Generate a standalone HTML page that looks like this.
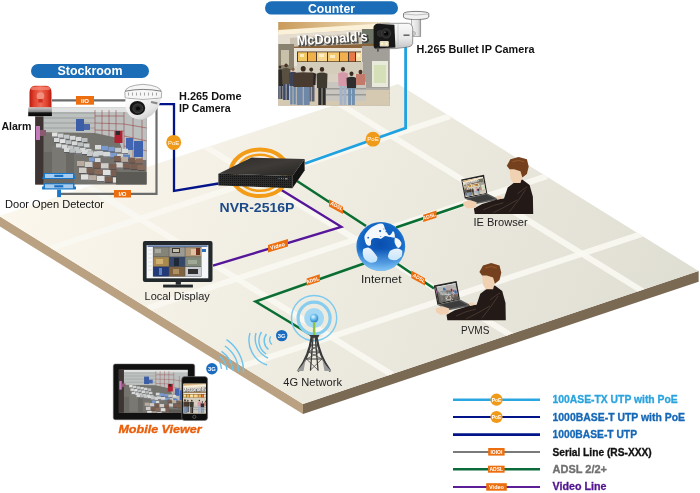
<!DOCTYPE html>
<html><head><meta charset="utf-8">
<style>
html,body{margin:0;padding:0;background:#fff;width:700px;height:493px;overflow:hidden}
svg{display:block;will-change:transform}
text{font-family:"Liberation Sans",sans-serif}
</style></head>
<body>
<svg width="700" height="493" viewBox="0 0 700 493">
<defs>
 <linearGradient id="plat" gradientUnits="userSpaceOnUse" x1="0" y1="0" x2="700" y2="290.5">
  <stop offset="0" stop-color="#fffaf0"/>
  <stop offset="1" stop-color="#dfded3"/>
 </linearGradient>
</defs>
<!-- platform -->
<g id="platform">
 <polygon points="-1,216 303,404 303,414 -1,226" fill="#b9a182"/>
 <polygon points="303,404 698.6,271 698.6,281.8 303,414" fill="#7a6a54"/>
 <polygon points="398,84 698.6,271 303,404 -1,216" fill="url(#plat)"/>
 <clipPath id="topclip"><polygon points="398,84 698.6,271 303,404 -1,216"/></clipPath>
 <g stroke="#f8f7f1" stroke-opacity="0.92" stroke-width="6" clip-path="url(#topclip)">
  <line x1="88" y1="186.6" x2="392" y2="374.6"/>
  <line x1="200" y1="143.2" x2="530" y2="347.1"/>
  <line x1="339" y1="103.5" x2="643" y2="291.5"/>
  <line x1="51" y1="248.1" x2="450" y2="116.1"/>
  <line x1="148" y1="308.1" x2="547" y2="176.1"/>
  <line x1="235" y1="368.5" x2="645" y2="232.9"/>
 </g>
</g>

<!-- network lines -->
<g fill="none" stroke-linejoin="miter">
 <path d="M52,100.4 H126" stroke="#6c6c6c" stroke-width="2.2"/>
 <path d="M156.5,106 V193.8 H58.5" stroke="#6c6c6c" stroke-width="2.2"/>
 <path d="M158.5,104.2 H174 V191 L218.5,183.5" stroke="#03148a" stroke-width="2.3"/>
 <path d="M405.6,47 V128 L305,163.5" stroke="#21a2e0" stroke-width="2.8"/>
 <path d="M297,181 L366,226" stroke="#0a6e32" stroke-width="2.6"/>
 <path d="M396,227.5 L464,204.5" stroke="#0a6e32" stroke-width="2.6"/>
 <path d="M397,263.5 L434,288.5" stroke="#0a6e32" stroke-width="2.6"/>
 <path d="M364,263.5 L255.5,301.5 L311,335" stroke="#0a6e32" stroke-width="2.6"/>
 <path d="M279,188.4 L341.3,226.8 L213,265.7" stroke="#55169a" stroke-width="2.4"/>
</g>
<!-- labels on lines -->
<g fill="#ec6e0e">
 <rect x="76" y="96" width="18" height="8.7"/>
 <rect x="114" y="190" width="17" height="7.5"/>
 <polygon points="329,199.3 343,206.8 343,214.1 329,206.6"/>
 <polygon points="268,245 288,239.1 288,246.5 268,252.4"/>
 <polygon points="306.7,278.4 319.8,274.3 319.8,281.6 306.7,285.7"/>
 <polygon points="423.2,214.7 436.5,210.4 436.5,217.7 423.2,222"/>
 <polygon points="411.3,270.6 425,278.2 425,285.5 411.3,277.9"/>
</g>
<g fill="#fff" font-size="5.5" font-weight="bold">
 <text x="85" y="102.6" text-anchor="middle" font-size="6">I/O</text>
 <text x="122.5" y="195.7" text-anchor="middle" font-size="6">I/O</text>
 <text transform="translate(336,207.5) rotate(28)" text-anchor="middle" font-size="5">ADSL</text>
 <text transform="translate(278,247.8) rotate(-16.5)" text-anchor="middle" font-size="5.5">Video</text>
 <text transform="translate(313.2,281.8) rotate(-17.5)" text-anchor="middle" font-size="5">ADSL</text>
 <text transform="translate(429.8,218) rotate(-18)" text-anchor="middle" font-size="5">ADSL</text>
 <text transform="translate(418.2,279.6) rotate(29)" text-anchor="middle" font-size="5">ADSL</text>
</g>
<g>
 <circle cx="173.7" cy="142.4" r="7.5" fill="#f09a1a"/>
 <circle cx="373" cy="139.2" r="7.4" fill="#f09a1a"/>
 <text x="173.7" y="144.6" text-anchor="middle" font-size="6" fill="#fff">PoE</text>
 <text x="373" y="141.4" text-anchor="middle" font-size="6" fill="#fff">PoE</text>
</g>

<!-- stockroom -->
<rect x="31" y="64" width="118" height="14" rx="7" fill="#1a6db6"/>
<text x="90" y="75.4" text-anchor="middle" font-size="12" font-weight="bold" fill="#fff" textLength="65" lengthAdjust="spacingAndGlyphs">Stockroom</text>
<clipPath id="wh"><rect x="35.2" y="107.8" width="111.4" height="76.7"/></clipPath>
<g id="whg" clip-path="url(#wh)">
 <rect x="35" y="107" width="112" height="78" fill="#75736d"/>
 <polygon points="35,107 147,107 147,160 126,160 118,138 95,133 35,132" fill="#bcc0be"/>
 <rect x="35" y="107" width="112" height="5" fill="#dfe2e0"/>
 <g stroke="#8c9092" stroke-width="0.7">
  <line x1="44" y1="113" x2="95" y2="113"/><line x1="44" y1="118" x2="95" y2="118"/><line x1="44" y1="123" x2="95" y2="123"/><line x1="44" y1="128" x2="95" y2="128"/>
 </g>
 <g stroke="#96383a" stroke-width="0.7" stroke-opacity="0.75">
  <line x1="95" y1="110" x2="95" y2="133"/><line x1="102" y1="110" x2="102" y2="135"/><line x1="109" y1="110" x2="109" y2="136"/><line x1="116" y1="110" x2="116" y2="138"/>
  <line x1="95" y1="116" x2="124" y2="116"/><line x1="95" y1="123" x2="124" y2="124"/><line x1="95" y1="130" x2="124" y2="131"/>
  <line x1="124" y1="112" x2="124" y2="150"/><line x1="133" y1="118" x2="133" y2="157"/><line x1="142" y1="120" x2="142" y2="160"/>
  <line x1="124" y1="124" x2="147" y2="128"/><line x1="124" y1="136" x2="147" y2="141"/><line x1="124" y1="146" x2="147" y2="151"/>
 </g>
 <rect x="76" y="119" width="8" height="12" fill="#3b5ea6"/>
 <rect x="84" y="124" width="6" height="6" fill="#4a66a8"/>
 <rect x="126" y="138" width="7" height="12" fill="#4466b0"/>
 <rect x="134" y="141" width="9" height="16" fill="#3f62ae"/>
 <rect x="114.5" y="131" width="8" height="12" fill="#b02232"/>
 <rect x="116" y="131" width="4" height="4" fill="#2a2a2a"/>
 <rect x="35" y="107" width="8.5" height="78" fill="#3e3434"/>
 <rect x="36" y="126" width="4" height="14" fill="#c27ab8"/>
 <rect x="40" y="130" width="6" height="6" fill="#8a5a70"/>
 <rect x="44" y="152" width="30" height="33" fill="#6a6863"/>
 <rect x="52" y="146" width="14" height="30" fill="#7a7872"/>
 <g>
  <rect x="52.0" y="132.5" width="5.5" height="5" fill="#e2e3e2"/>
  <rect x="52.0" y="136.6" width="5.5" height="0.9" fill="#4a4b50"/>
  <rect x="58.0" y="133.6" width="5.5" height="5" fill="#cfd2d2"/>
  <rect x="58.0" y="137.7" width="5.5" height="0.9" fill="#4a4b50"/>
  <rect x="64.0" y="134.7" width="5.5" height="5" fill="#c4c8c9"/>
  <rect x="64.0" y="138.8" width="5.5" height="0.9" fill="#4a4b50"/>
  <rect x="70.0" y="135.8" width="5.5" height="5" fill="#d8dad9"/>
  <rect x="70.0" y="139.9" width="5.5" height="0.9" fill="#4a4b50"/>
  <rect x="76.0" y="136.9" width="5.5" height="5" fill="#d8dad9"/>
  <rect x="76.0" y="141.0" width="5.5" height="0.9" fill="#4a4b50"/>
  <rect x="82.0" y="138.0" width="5.5" height="5" fill="#bcbfc0"/>
  <rect x="82.0" y="142.1" width="5.5" height="0.9" fill="#4a4b50"/>
  <rect x="54.0" y="138.0" width="5.5" height="5" fill="#d8dad9"/>
  <rect x="54.0" y="142.1" width="5.5" height="0.9" fill="#4a4b50"/>
  <rect x="60.0" y="139.1" width="5.5" height="5" fill="#e2e3e2"/>
  <rect x="60.0" y="143.2" width="5.5" height="0.9" fill="#4a4b50"/>
  <rect x="66.0" y="140.2" width="5.5" height="5" fill="#bcbfc0"/>
  <rect x="66.0" y="144.3" width="5.5" height="0.9" fill="#4a4b50"/>
  <rect x="72.0" y="141.3" width="5.5" height="5" fill="#d8dad9"/>
  <rect x="72.0" y="145.4" width="5.5" height="0.9" fill="#4a4b50"/>
  <rect x="78.0" y="142.4" width="5.5" height="5" fill="#bcbfc0"/>
  <rect x="78.0" y="146.5" width="5.5" height="0.9" fill="#4a4b50"/>
  <rect x="84.0" y="143.5" width="5.5" height="5" fill="#cfd2d2"/>
  <rect x="84.0" y="147.6" width="5.5" height="0.9" fill="#4a4b50"/>
  <rect x="56.0" y="143.5" width="5.5" height="5" fill="#d8dad9"/>
  <rect x="56.0" y="147.6" width="5.5" height="0.9" fill="#4a4b50"/>
  <rect x="62.0" y="144.6" width="5.5" height="5" fill="#d8dad9"/>
  <rect x="62.0" y="148.7" width="5.5" height="0.9" fill="#4a4b50"/>
  <rect x="68.0" y="145.7" width="5.5" height="5" fill="#c4c8c9"/>
  <rect x="68.0" y="149.8" width="5.5" height="0.9" fill="#4a4b50"/>
  <rect x="74.0" y="146.8" width="5.5" height="5" fill="#c4c8c9"/>
  <rect x="74.0" y="150.9" width="5.5" height="0.9" fill="#4a4b50"/>
  <rect x="80.0" y="147.9" width="5.5" height="5" fill="#d8dad9"/>
  <rect x="80.0" y="152.0" width="5.5" height="0.9" fill="#4a4b50"/>
  <rect x="86.0" y="149.0" width="5.5" height="5" fill="#cfd2d2"/>
  <rect x="86.0" y="153.1" width="5.5" height="0.9" fill="#4a4b50"/>
  <rect x="64.0" y="148.0" width="5.5" height="5" fill="#d8dad9"/>
  <rect x="64.0" y="152.1" width="5.5" height="0.9" fill="#4a4b50"/>
  <rect x="70.0" y="148.7" width="5.5" height="5" fill="#bcbfc0"/>
  <rect x="70.0" y="152.8" width="5.5" height="0.9" fill="#4a4b50"/>
  <rect x="76.0" y="149.3" width="5.5" height="5" fill="#c4c8c9"/>
  <rect x="76.0" y="153.4" width="5.5" height="0.9" fill="#4a4b50"/>
  <rect x="82.0" y="150.0" width="5.5" height="5" fill="#d8dad9"/>
  <rect x="82.0" y="154.1" width="5.5" height="0.9" fill="#4a4b50"/>
  <rect x="88.0" y="150.6" width="5.5" height="5" fill="#bcbfc0"/>
  <rect x="88.0" y="154.7" width="5.5" height="0.9" fill="#4a4b50"/>
  <rect x="94.0" y="151.3" width="5.5" height="5" fill="#d8dad9"/>
  <rect x="94.0" y="155.4" width="5.5" height="0.9" fill="#4a4b50"/>
  <rect x="100.0" y="152.0" width="5.5" height="5" fill="#cfd2d2"/>
  <rect x="100.0" y="156.1" width="5.5" height="0.9" fill="#4a4b50"/>
  <rect x="106.0" y="152.6" width="5.5" height="5" fill="#bcbfc0"/>
  <rect x="106.0" y="156.7" width="5.5" height="0.9" fill="#4a4b50"/>
  <rect x="95.0" y="145.0" width="6.2" height="5.5" fill="#d8dad9"/>
  <rect x="95.0" y="149.6" width="6.2" height="0.9" fill="#4a4b50"/>
  <rect x="101.7" y="145.9" width="6.2" height="5.5" fill="#7a9ad0"/>
  <rect x="101.7" y="150.5" width="6.2" height="0.9" fill="#4a4b50"/>
  <rect x="108.4" y="146.9" width="6.2" height="5.5" fill="#7a9ad0"/>
  <rect x="108.4" y="151.5" width="6.2" height="0.9" fill="#4a4b50"/>
  <rect x="115.1" y="147.8" width="6.2" height="5.5" fill="#c4c8c9"/>
  <rect x="115.1" y="152.4" width="6.2" height="0.9" fill="#4a4b50"/>
  <rect x="121.8" y="148.7" width="6.2" height="5.5" fill="#d8dad9"/>
  <rect x="121.8" y="153.3" width="6.2" height="0.9" fill="#4a4b50"/>
  <rect x="97.0" y="151.0" width="6.2" height="5.5" fill="#cfd2d2"/>
  <rect x="97.0" y="155.6" width="6.2" height="0.9" fill="#4a4b50"/>
  <rect x="103.7" y="151.9" width="6.2" height="5.5" fill="#d8dad9"/>
  <rect x="103.7" y="156.5" width="6.2" height="0.9" fill="#4a4b50"/>
  <rect x="110.4" y="152.9" width="6.2" height="5.5" fill="#7a9ad0"/>
  <rect x="110.4" y="157.5" width="6.2" height="0.9" fill="#4a4b50"/>
  <rect x="117.1" y="153.8" width="6.2" height="5.5" fill="#cfd2d2"/>
  <rect x="117.1" y="158.4" width="6.2" height="0.9" fill="#4a4b50"/>
  <rect x="123.8" y="154.7" width="6.2" height="5.5" fill="#5a84c4"/>
  <rect x="123.8" y="159.3" width="6.2" height="0.9" fill="#4a4b50"/>
  <rect x="87.0" y="152.0" width="5.5" height="5" fill="#c4c8c9"/>
  <rect x="87.0" y="156.1" width="5.5" height="0.9" fill="#4a4b50"/>
  <rect x="93.0" y="152.6" width="5.5" height="5" fill="#cfd2d2"/>
  <rect x="93.0" y="156.7" width="5.5" height="0.9" fill="#4a4b50"/>
  <rect x="89.0" y="157.5" width="5.5" height="5" fill="#7a9ad0"/>
  <rect x="89.0" y="161.6" width="5.5" height="0.9" fill="#4a4b50"/>
  <rect x="95.0" y="158.1" width="5.5" height="5" fill="#d8dad9"/>
  <rect x="95.0" y="162.2" width="5.5" height="0.9" fill="#4a4b50"/>
  <rect x="114.0" y="156.0" width="6.8" height="6" fill="#7a5e50"/>
  <rect x="114.0" y="161.1" width="6.8" height="0.9" fill="#4a4b50"/>
  <rect x="121.3" y="156.8" width="6.8" height="6" fill="#b8aca0"/>
  <rect x="121.3" y="161.9" width="6.8" height="0.9" fill="#4a4b50"/>
  <rect x="128.6" y="157.6" width="6.8" height="6" fill="#7a5e50"/>
  <rect x="128.6" y="162.7" width="6.8" height="0.9" fill="#4a4b50"/>
  <rect x="135.9" y="158.4" width="6.8" height="6" fill="#8a6c5c"/>
  <rect x="135.9" y="163.5" width="6.8" height="0.9" fill="#4a4b50"/>
  <rect x="116.0" y="162.5" width="6.8" height="6" fill="#d0ccc8"/>
  <rect x="116.0" y="167.6" width="6.8" height="0.9" fill="#4a4b50"/>
  <rect x="123.3" y="163.3" width="6.8" height="6" fill="#7a5e50"/>
  <rect x="123.3" y="168.4" width="6.8" height="0.9" fill="#4a4b50"/>
  <rect x="130.6" y="164.1" width="6.8" height="6" fill="#7a5e50"/>
  <rect x="130.6" y="169.2" width="6.8" height="0.9" fill="#4a4b50"/>
  <rect x="137.9" y="164.9" width="6.8" height="6" fill="#8a6c5c"/>
  <rect x="137.9" y="170.0" width="6.8" height="0.9" fill="#4a4b50"/>
  <rect x="77.0" y="161.0" width="7.5" height="6.2" fill="#b8aca0"/>
  <rect x="77.0" y="166.3" width="7.5" height="0.9" fill="#4a4b50"/>
  <rect x="85.0" y="161.8" width="7.5" height="6.2" fill="#d0ccc8"/>
  <rect x="85.0" y="167.0" width="7.5" height="0.9" fill="#4a4b50"/>
  <rect x="93.0" y="162.5" width="7.5" height="6.2" fill="#7a5e50"/>
  <rect x="93.0" y="167.8" width="7.5" height="0.9" fill="#4a4b50"/>
  <rect x="101.0" y="163.2" width="7.5" height="6.2" fill="#d0ccc8"/>
  <rect x="101.0" y="168.5" width="7.5" height="0.9" fill="#4a4b50"/>
  <rect x="109.0" y="164.0" width="7.5" height="6.2" fill="#7a5e50"/>
  <rect x="109.0" y="169.3" width="7.5" height="0.9" fill="#4a4b50"/>
  <rect x="79.0" y="167.7" width="7.5" height="6.2" fill="#d0ccc8"/>
  <rect x="79.0" y="173.0" width="7.5" height="0.9" fill="#4a4b50"/>
  <rect x="87.0" y="168.4" width="7.5" height="6.2" fill="#7a5e50"/>
  <rect x="87.0" y="173.7" width="7.5" height="0.9" fill="#4a4b50"/>
  <rect x="95.0" y="169.2" width="7.5" height="6.2" fill="#8a6c5c"/>
  <rect x="95.0" y="174.5" width="7.5" height="0.9" fill="#4a4b50"/>
  <rect x="103.0" y="169.9" width="7.5" height="6.2" fill="#e0e0de"/>
  <rect x="103.0" y="175.2" width="7.5" height="0.9" fill="#4a4b50"/>
  <rect x="111.0" y="170.7" width="7.5" height="6.2" fill="#7a5e50"/>
  <rect x="111.0" y="176.0" width="7.5" height="0.9" fill="#4a4b50"/>
  <rect x="81.0" y="174.4" width="7.5" height="6.2" fill="#e0e0de"/>
  <rect x="81.0" y="179.7" width="7.5" height="0.9" fill="#4a4b50"/>
  <rect x="89.0" y="175.2" width="7.5" height="6.2" fill="#b8aca0"/>
  <rect x="89.0" y="180.4" width="7.5" height="0.9" fill="#4a4b50"/>
  <rect x="97.0" y="175.9" width="7.5" height="6.2" fill="#e0e0de"/>
  <rect x="97.0" y="181.2" width="7.5" height="0.9" fill="#4a4b50"/>
  <rect x="105.0" y="176.7" width="7.5" height="6.2" fill="#7a5e50"/>
  <rect x="105.0" y="181.9" width="7.5" height="0.9" fill="#4a4b50"/>
  <rect x="113.0" y="177.4" width="7.5" height="6.2" fill="#e0e0de"/>
  <rect x="113.0" y="182.7" width="7.5" height="0.9" fill="#4a4b50"/>
 </g>
 <rect x="116" y="172" width="31" height="13" fill="#5c5a55"/>
</g>
<!-- alarm -->
<defs>
 <linearGradient id="redg" x1="0" y1="0" x2="1" y2="0"><stop offset="0" stop-color="#b81a0e"/><stop offset="0.2" stop-color="#e0402c"/><stop offset="0.5" stop-color="#ee6a56"/><stop offset="0.8" stop-color="#e0402c"/><stop offset="1" stop-color="#b81a0e"/></linearGradient>
 <linearGradient id="baseg" x1="0" y1="0" x2="0" y2="1"><stop offset="0" stop-color="#c8c8c8"/><stop offset="0.45" stop-color="#8a8a8a"/><stop offset="0.6" stop-color="#151515"/><stop offset="0.9" stop-color="#0a0a0a"/><stop offset="1" stop-color="#9a9a9a"/></linearGradient>
</defs>
<path d="M29.5,107.5 V93 Q29.5,86 35,85.8 H46 Q51.5,86 51.5,93 V107.5 Z" fill="url(#redg)"/>
<rect x="31" y="87" width="19" height="3" rx="1.5" fill="#f58a78" opacity="0.7"/>
<circle cx="40.5" cy="96" r="3.8" fill="#f0907e"/>
<rect x="38.3" y="99" width="4.4" height="3.5" fill="#d0301e"/>
<path d="M28.2,107.4 H51.9 V116.5 H28.2 Z" fill="url(#baseg)"/>
<!-- dome camera -->
<defs>
 <linearGradient id="domeg" x1="0" y1="0" x2="1" y2="1">
  <stop offset="0" stop-color="#ffffff"/><stop offset="0.6" stop-color="#e6e6e6"/><stop offset="1" stop-color="#b8b8b8"/>
 </linearGradient>
</defs>
<path d="M124.8,92.5 Q125,85.5 143,84.3 Q161,85.5 161.6,92.5 L161.3,98 Q143,101 125.2,98 Z" fill="#f6f6f6" stroke="#8c8c8c" stroke-width="0.7"/>
<path d="M125.2,91.2 Q143,87.6 161.3,91.2" fill="none" stroke="#6e6e6e" stroke-width="0.9"/>
<g stroke="#9c9c9c" stroke-width="0.9" stroke-linecap="round"><line x1="128.5" y1="93" x2="128.5" y2="95.2"/><line x1="132.5" y1="93" x2="132.5" y2="95.2"/><line x1="136.5" y1="93" x2="136.5" y2="95.2"/><line x1="140.5" y1="93" x2="140.5" y2="95.2"/><line x1="144.5" y1="93" x2="144.5" y2="95.2"/><line x1="148.5" y1="93" x2="148.5" y2="95.2"/><line x1="152.5" y1="93" x2="152.5" y2="95.2"/><line x1="156.5" y1="93" x2="156.5" y2="95.2"/></g>
<path d="M125.5,98.5 Q143,101.5 160.8,98.5 Q160,108 152,115 Q146,119.5 139,119.5 Q131,119 127,112 Q124.5,106 125.5,98.5 Z" fill="url(#domeg)"/>
<ellipse cx="137.4" cy="108" rx="7.8" ry="6.9" fill="#151515"/>
<ellipse cx="137.8" cy="108.4" rx="5" ry="4.5" fill="#2c2c2c" stroke="#555" stroke-width="0.6"/>
<ellipse cx="138" cy="108.6" rx="2.2" ry="2" fill="#0c0c0c"/>
<rect x="151" y="101.5" width="6.5" height="2.2" fill="#8a8a8a" transform="rotate(12 154 102.5)"/>
<!-- door detector -->
<g>
 <polygon points="44,173 74,173 75.7,179 42.1,179" fill="#1a78c8"/>
 <rect x="45" y="174" width="28" height="4" fill="#a6cdef"/>
 <rect x="54.3" y="174.8" width="9" height="2.2" fill="#1a70c0"/>
 <polygon points="43.5,183.2 74.5,183.2 74.5,186.5 76,186.5 76,189.6 42.1,189.6 42.1,186.5 43.5,186.5" fill="#1a78c8"/>
 <rect x="45" y="184.3" width="28" height="4" fill="#a6cdef"/>
 <rect x="54.3" y="185.2" width="9" height="2.2" fill="#1a70c0"/>
 <rect x="57.1" y="189.6" width="3.9" height="7.5" fill="#1a78c8"/>
</g>
<text x="1.4" y="130" font-size="11" font-weight="bold" fill="#111" textLength="30" lengthAdjust="spacingAndGlyphs">Alarm</text>
<text x="5" y="208" font-size="11" fill="#111" textLength="99" lengthAdjust="spacingAndGlyphs">Door Open Detector</text>
<text x="179" y="100" font-size="10.5" font-weight="bold" fill="#111" textLength="62.5" lengthAdjust="spacingAndGlyphs">H.265 Dome</text>
<text x="179" y="112" font-size="10.5" font-weight="bold" fill="#111" textLength="51.6" lengthAdjust="spacingAndGlyphs">IP Camera</text>

<!-- counter -->
<rect x="265" y="1.3" width="133" height="13.3" rx="6.6" fill="#1a6db6"/>
<text x="331.5" y="12.5" text-anchor="middle" font-size="12" font-weight="bold" fill="#fff" textLength="47" lengthAdjust="spacingAndGlyphs">Counter</text>
<clipPath id="mc"><rect x="278.3" y="22" width="111.4" height="83.7"/></clipPath>
<defs>
 <linearGradient id="ceil" x1="0" y1="0" x2="1" y2="0">
  <stop offset="0" stop-color="#c99a5a"/><stop offset="0.6" stop-color="#e2c79a"/><stop offset="1" stop-color="#efe2cc"/>
 </linearGradient>
</defs>
<g id="mcg" clip-path="url(#mc)">
 <rect x="278" y="22" width="112" height="84" fill="#d9d2c6"/>
 <rect x="278" y="22" width="112" height="10" fill="url(#ceil)"/>
 <polygon points="278,30 390,23 390,28 278,35" fill="#fbf1d8"/>
 <polygon points="278,35 390,28 390,46 278,47" fill="#e4ddd0"/>
 <polygon points="290,38 362,33 362,46 290,48" fill="#cbc2b2"/>
 <rect x="362" y="29" width="28" height="17" fill="#6e7466"/>
 <polygon points="286,47 390,43 390,48 286,50" fill="#8a643a"/>
 <rect x="278" y="48" width="112" height="18" fill="#ebe4d6"/>
 <rect x="278" y="44" width="16" height="26" fill="#8a8270"/>
 <rect x="281" y="50" width="8" height="15" fill="#c8c0a8"/>
 <rect x="297" y="51.5" width="64" height="10.5" fill="#4a3a2a"/>
 <rect x="298" y="52.3" width="9" height="9" fill="#f4c860"/><rect x="308" y="52.3" width="8" height="9" fill="#f0b04a"/><rect x="317" y="52.3" width="10" height="9" fill="#f8d890"/><rect x="328" y="52.3" width="11" height="9" fill="#f6c870"/><rect x="340" y="52.3" width="8" height="9" fill="#f0b050"/><rect x="349" y="52.3" width="6" height="9" fill="#e87848"/><rect x="356" y="52.3" width="5" height="9" fill="#f8e0a8"/>
 <g fill="#fff4d8" opacity="0.8"><rect x="300" y="54" width="4" height="3"/><rect x="319" y="54" width="5" height="3"/><rect x="330" y="55" width="5" height="3"/><rect x="357" y="54" width="3" height="3"/></g>
 <rect x="362" y="46" width="28" height="44" fill="#a19f98"/>
 <rect x="372" y="61" width="16" height="26" fill="#e8eadc"/>
 <rect x="374" y="65" width="12" height="18" fill="#d5e0b8"/>
 <rect x="297" y="62" width="66" height="22" fill="#d9d0c2"/>
 <rect x="300" y="64" width="20" height="6" fill="#c0b8a8"/>
 <rect x="278" y="88" width="112" height="18" fill="#cac5bc"/>
 <rect x="332" y="88" width="58" height="18" fill="#b2afa8"/>
 <rect x="336" y="92" width="54" height="2" fill="#8c8a86"/><rect x="336" y="97" width="54" height="2" fill="#8c8a86"/>

 <g>
  <rect x="278" y="90" width="112" height="16" fill="#d6c9b2"/>
  <rect x="326" y="82" width="40" height="19" fill="#c9c6c0"/><rect x="326" y="88" width="40" height="1.5" fill="#9a9894"/><rect x="326" y="94" width="40" height="1.5" fill="#9a9894"/>
  <rect x="297" y="62" width="66" height="12" fill="#d4cdbc"/>
  <path d="M277.0,86.0 L276.5,70.6 Q280.0,68.1 283.5,70.6 L283.0,86.0 Z" fill="#2e2a28"/>
  <rect x="277.5" y="86.0" width="2.1" height="13.0" fill="#34405a"/>
  <rect x="280.4" y="86.0" width="2.1" height="13.0" fill="#34405a"/>
  <ellipse cx="280.0" cy="67.0" rx="1.4" ry="1.5" fill="#3a2a20"/>
  <path d="M282.3,84.0 L281.8,69.3 Q286.1,66.8 290.5,69.3 L290.0,84.0 Z" fill="#5a5040"/>
  <rect x="283.1" y="84.0" width="2.6" height="16.0" fill="#3a4a68"/>
  <rect x="286.5" y="84.0" width="2.6" height="16.0" fill="#3a4a68"/>
  <ellipse cx="286.1" cy="65.4" rx="1.7" ry="1.9" fill="#4a3020"/>
  <path d="M289.5,86.0 L289.0,73.0 Q293.0,70.5 297.0,73.0 L296.5,86.0 Z" fill="#3c4258"/>
  <rect x="290.2" y="86.0" width="2.4" height="18.5" fill="#6a86a8"/>
  <rect x="293.4" y="86.0" width="2.4" height="18.5" fill="#6a86a8"/>
  <ellipse cx="293.0" cy="69.3" rx="1.6" ry="1.8" fill="#8a6040"/>
  <path d="M307.0,85.0 L306.5,73.7 Q311.2,71.2 316.0,73.7 L315.5,85.0 Z" fill="#2a2624"/>
  <rect x="308.0" y="85.0" width="2.9" height="16.5" fill="#5a6070"/>
  <rect x="311.6" y="85.0" width="2.9" height="16.5" fill="#5a6070"/>
  <ellipse cx="311.2" cy="69.6" rx="1.9" ry="2.1" fill="#3a2a20"/>
  <path d="M293.5,87.0 L293.0,73.6 Q303.2,71.1 313.5,73.6 L313.0,87.0 Z" fill="#4a3b30"/>
  <rect x="296.7" y="87.0" width="6.1" height="18.0" fill="#7088a8"/>
  <rect x="303.6" y="87.0" width="6.1" height="18.0" fill="#7088a8"/>
  <ellipse cx="303.2" cy="68.8" rx="2.5" ry="2.8" fill="#3a2a20"/>
  <path d="M317.0,88.0 L316.5,73.8 Q322.0,71.3 327.5,73.8 L327.0,88.0 Z" fill="#3e3a30"/>
  <rect x="318.3" y="88.0" width="3.3" height="17.0" fill="#2a2a2a"/>
  <rect x="322.4" y="88.0" width="3.3" height="17.0" fill="#2a2a2a"/>
  <ellipse cx="322.0" cy="69.4" rx="2.2" ry="2.4" fill="#3a2a20"/>
  <path d="M338.5,86.0 L338.0,73.4 Q343.0,70.9 348.0,73.4 L347.5,86.0 Z" fill="#d699aa"/>
  <rect x="339.6" y="86.0" width="3.0" height="19.0" fill="#a2b2c8"/>
  <rect x="343.4" y="86.0" width="3.0" height="19.0" fill="#a2b2c8"/>
  <ellipse cx="343.0" cy="69.2" rx="2.0" ry="2.2" fill="#3a2a20"/>
  <path d="M347.0,88.0 L346.5,77.9 Q351.5,75.4 356.5,77.9 L356.0,88.0 Z" fill="#2e2e2e"/>
  <rect x="348.1" y="88.0" width="3.0" height="17.0" fill="#7090b0"/>
  <rect x="351.9" y="88.0" width="3.0" height="17.0" fill="#7090b0"/>
  <ellipse cx="351.5" cy="73.7" rx="2.0" ry="2.2" fill="#3a2a20"/>
  <rect x="356" y="74" width="9" height="11" fill="#c47a6a"/><ellipse cx="360.5" cy="72" rx="2" ry="2.3" fill="#4a3020"/>
 </g>
 <text transform="translate(297.6,45.8) rotate(-3.5)" font-size="14" font-weight="bold" fill="#2a2a2a" opacity="0.75" stroke="#2a2a2a" stroke-width="1.2" textLength="71" lengthAdjust="spacingAndGlyphs" dx="0.6" dy="0.6">McDonald's</text>
 <text transform="translate(297,45.3) rotate(-3.5)" font-size="14" font-weight="bold" fill="#fff" textLength="71" lengthAdjust="spacingAndGlyphs">McDonald's</text>
</g>
<!-- bullet camera -->
<defs>
 <linearGradient id="bcb" x1="0" y1="0" x2="0" y2="1"><stop offset="0" stop-color="#fafafa"/><stop offset="0.6" stop-color="#e8e8e8"/><stop offset="1" stop-color="#c4c4c4"/></linearGradient>
 <linearGradient id="arm" x1="0" y1="0" x2="1" y2="0"><stop offset="0" stop-color="#f4f4f4"/><stop offset="0.7" stop-color="#dedede"/><stop offset="1" stop-color="#a8a8a8"/></linearGradient>
</defs>
<path d="M403.5,13.5 Q404,11.6 416,11.4 Q428,11.6 428.8,13.5 V17 Q428,19.4 416,19.6 Q404,19.4 403.5,17 Z" fill="#f2f2f2" stroke="#4a4a4a" stroke-width="0.7"/>
<path d="M404,14 Q416,16 428.5,14" fill="none" stroke="#8a8a8a" stroke-width="0.5"/>
<rect x="411.3" y="19.3" width="9.5" height="17.2" fill="url(#arm)" stroke="#6a6a6a" stroke-width="0.5"/>
<circle cx="413.5" cy="33.5" r="2" fill="#d0d0d0" stroke="#777" stroke-width="0.4"/>
<path d="M374,26.3 Q376,23.6 381.2,23.3 H408.6 Q412.7,24.5 412.7,29 V43.6 Q412,46.5 408,47 L395.4,48.6 H375 Z" fill="url(#bcb)" stroke="#5a5a5a" stroke-width="0.6"/>
<path d="M398,24.2 V48" stroke="#b0b0b0" stroke-width="0.5"/>
<rect x="403.5" y="34.4" width="6" height="1.6" fill="#6a6a6a"/>
<path d="M373.6,27 Q374.5,24 377.5,23.8 L394.4,24.8 L395.4,47.6 L375.1,48.6 Q373.6,48 373.6,45.6 Z" fill="#181818"/>
<circle cx="380.4" cy="33.4" r="3" fill="#2a2a2a" stroke="#444" stroke-width="0.5"/>
<circle cx="386.2" cy="33.4" r="4.6" fill="#262626" stroke="#4a4a4a" stroke-width="0.6"/>
<circle cx="386.2" cy="33.4" r="2.2" fill="#080808"/>
<circle cx="385" cy="32.2" r="0.7" fill="#777"/>
<rect x="379.7" y="41" width="9.1" height="5.6" rx="1.2" fill="#e4dcc4"/>
<circle cx="382" cy="43.8" r="1.2" fill="#fff6c0"/><circle cx="386.5" cy="43.8" r="1.2" fill="#fff6c0"/>
<rect x="377" y="47.6" width="1.8" height="4" fill="#555"/>
<text x="416.5" y="52.8" font-size="10.5" font-weight="bold" fill="#111" textLength="118" lengthAdjust="spacingAndGlyphs">H.265 Bullet IP Camera</text>

<!-- NVR -->
<ellipse cx="259.8" cy="172.8" rx="29.2" ry="23.3" fill="none" stroke="#f39c18" stroke-width="4"/>
<ellipse cx="259.8" cy="172.8" rx="23" ry="18" fill="none" stroke="#f39c18" stroke-width="2.4"/>
<defs>
 <linearGradient id="nvrtop" x1="0" y1="0" x2="1" y2="1">
  <stop offset="0" stop-color="#2c2a28"/><stop offset="0.5" stop-color="#3e3b38"/><stop offset="1" stop-color="#262422"/>
 </linearGradient>
 <pattern id="mesh" width="2" height="2" patternUnits="userSpaceOnUse">
  <rect width="2" height="2" fill="#2a2a2a"/><rect width="1" height="1" fill="#151515"/>
 </pattern>
</defs>
<polygon points="218.4,173.7 251.6,157.6 304.6,159 292.4,176" fill="url(#nvrtop)"/>
<polygon points="218.4,173.7 292.4,176 292.4,188.2 218.4,185.5" fill="url(#mesh)"/>
<polygon points="292.4,176 304.6,159 304.6,170.5 292.4,188.2" fill="#141414"/>
<circle cx="279" cy="178.5" r="0.6" fill="#3aa0e0"/><circle cx="281.5" cy="178.6" r="0.6" fill="#40c060"/><circle cx="283.5" cy="178.7" r="0.6" fill="#e04040"/>
<rect x="285" y="178.3" width="2.5" height="1" fill="#aaa"/>
<text x="219.5" y="211.7" font-size="12.5" font-weight="bold" fill="#1b4a8a" textLength="75" lengthAdjust="spacingAndGlyphs">NVR-2516P</text>

<!-- globe -->
<defs>
 <radialGradient id="glb" cx="0.5" cy="0.45" r="0.6">
  <stop offset="0" stop-color="#0a4fb0"/><stop offset="0.7" stop-color="#1466c4"/><stop offset="1" stop-color="#3c92e0"/>
 </radialGradient>
 <linearGradient id="glbshine" x1="0" y1="0" x2="0" y2="1">
  <stop offset="0.55" stop-color="#8fd0ff" stop-opacity="0"/><stop offset="1" stop-color="#9ad8ff" stop-opacity="0.75"/>
 </linearGradient>
</defs>
<circle cx="380.8" cy="246.4" r="24.4" fill="url(#glb)"/>
<path d="M364.7,239.6 Q364.4,238.4 364.4,237.1 Q364.4,235.8 365.3,234.3 Q366.3,232.7 367.9,230.8 Q369.4,228.9 371.6,227.3 Q373.8,225.8 376.4,224.7 Q378.9,223.6 380.9,223.6 Q383.0,223.6 383.6,224.7 Q384.2,225.8 384.5,227.3 Q384.8,228.9 385.6,229.9 Q386.4,230.8 387.0,232.5 Q387.7,234.3 388.6,234.9 Q389.6,235.5 390.5,234.7 Q391.4,233.9 392.1,232.4 Q392.7,230.8 393.5,231.4 Q394.3,232.1 394.7,234.3 Q395.2,236.5 394.7,238.7 Q394.3,240.9 394.7,242.8 Q395.2,244.6 396.5,246.5 Q397.7,248.4 399.0,247.8 Q400.3,247.2 401.2,245.0 Q402.1,242.8 399.9,240.2 Q397.7,237.7 395.2,237.7 Q392.7,237.7 390.5,237.1 Q388.3,236.5 386.7,236.2 Q385.2,235.8 384.2,236.5 Q383.3,237.1 382.3,238.0 Q381.4,239.0 380.1,238.7 Q378.9,238.5 377.3,238.1 Q375.7,237.7 374.2,238.1 Q372.6,238.5 371.6,239.5 Q370.7,240.6 371.0,242.9 Q371.3,245.3 369.7,245.7 Q368.2,246.2 367.1,245.1 Q366.0,244.0 365.5,242.4 Q365.0,240.9 364.7,239.6 Z" fill="#f4f8fc"/>
<path d="M363.3,249.1 Q366,247.4 368.2,247.5 Q371,248.5 372.6,250.8 Q375.5,254 377.5,257.3 Q377.5,260 375.9,261.7 Q373,263 370.4,262.8 Q367,261.5 365,259.5 Q363,257 362.8,254 Q362.5,251 363.3,249.1 Z" fill="#e8f2fb"/>
<path d="M390.1,250.8 Q394,248.5 397.8,248.6 Q400.5,249 402.2,250.8 Q402.5,253.5 401.6,256.2 Q399.5,258.5 396.7,260.1 Q393,260.5 390.1,259.5 Q388,258 388,256.2 Q388.5,253 390.1,250.8 Z" fill="#e8f2fb"/>
<g fill="#1a62c0"><circle cx="380.1" cy="231.1" r="1.13"/><circle cx="386.4" cy="231.4" r="0.88"/><circle cx="383.9" cy="228.9" r="0.50"/><circle cx="368.2" cy="237.7" r="0.88"/><circle cx="380.8" cy="236.5" r="0.50"/></g>
<circle cx="380.8" cy="246.4" r="24.4" fill="url(#glbshine)"/>
<text x="361" y="282.6" font-size="11" fill="#222" textLength="40.5" lengthAdjust="spacingAndGlyphs">Internet</text>

<!-- IE Browser person -->
<g transform="translate(27.4,-106.2)">
 <use href="#pvms"/>
 <use href="#mcg" transform="matrix(0.184,-0.0359,0.0394,0.1935,382.92,292.73)"/>
</g>
<text x="473.4" y="226.2" font-size="11" fill="#222" textLength="54.2" lengthAdjust="spacingAndGlyphs">IE Browser</text>
<g id="pvms">
 <polygon points="433.8,285.6 456.6,281.0 459.9,299.6 437.4,304.7" fill="#262626"/>
 <polygon points="435.0,287.0 455.5,283.0 458.5,298.5 438.3,303.2" fill="#7a7a76"/>
 <use href="#whg" transform="matrix(0.184,-0.0359,0.043,0.2112,423.89,265.49)"/>
 <polygon points="437.4,304.7 459.9,299.6 472.1,305.7 448.4,310.2" fill="#5e5e5e"/>
 <polygon points="440.5,304.6 459.0,300.8 467.5,305.0 449.5,308.6" fill="#3c3c3c"/>
 <polygon points="446.5,314.8 454.7,310.2 469.3,305.7 476.6,304.7 480.3,293.8 487.6,288.3 494.9,285.6 502.2,291.1 505.5,302.9 505.8,320.3 447.4,320.3" fill="#231a17"/>
 <path d="M456,316 Q466,311 476,309 M466,319 Q478,313 490,306 M482,318 Q492,306 498,296 M490,300 Q496,295 500,293" stroke="#5e4a3e" stroke-width="0.6" fill="none"/>
 <polygon points="435.6,308.4 442.0,306.2 449.3,308.4 448.4,313.9 440.1,314.8 436.1,312.0" fill="#f0d0b0"/>
 <polygon points="468.4,303.2 473.0,302.2 475.5,304.5 470.0,306.0" fill="#f0d0b0"/>
 <polygon points="482.1,275.5 492.2,273.7 494.9,282.8 493.1,289.2 485.8,289.2 483.0,284.7" fill="#f0d2b2"/>
 <polygon points="479.4,271.9 483.0,265.5 491.2,263.1 499.5,265.5 501.3,272.8 499.5,280.1 494.9,283.8 493.1,277.4 486.7,275.5 482.1,275.5" fill="#74401e"/>
 <path d="M485,268 Q491,265 497,268" stroke="#9a6030" stroke-width="0.8" fill="none"/>
</g>
<text x="461" y="334" font-size="11" fill="#222" textLength="28.4" lengthAdjust="spacingAndGlyphs">PVMS</text>

<!-- Local display -->
<rect x="142.9" y="241.1" width="69.6" height="40.8" rx="2" fill="#22282b"/>
<rect x="146.6" y="245.1" width="61.7" height="33.2" fill="#f6f7f9"/>
<rect x="147.5" y="245.5" width="60" height="1.2" fill="#2a4a8a"/>
<g stroke="#c8ccd0" stroke-width="0.5"><line x1="148" y1="250" x2="152" y2="250"/><line x1="148" y1="254" x2="152" y2="254"/><line x1="148" y1="258" x2="152" y2="258"/><line x1="148" y1="262" x2="152" y2="262"/><line x1="148" y1="266" x2="152" y2="266"/><line x1="148" y1="270" x2="152" y2="270"/></g>
<rect x="152.9" y="246.9" width="48.5" height="29.7" fill="#4a4e50"/>
<rect x="153.3" y="247.3" width="15.5" height="9.3" fill="#858478"/><rect x="169.3" y="247.3" width="15.5" height="9.3" fill="#9c9a92"/><rect x="185.3" y="247.3" width="15.7" height="9.3" fill="#b09878"/>
<rect x="155" y="249" width="6" height="4" fill="#a8a8a0"/><rect x="172" y="248" width="8" height="5" fill="#3a3a38"/><rect x="173" y="249" width="6" height="3" fill="#c8c0a8"/><rect x="191" y="249" width="5" height="6" fill="#e0c0a0"/><rect x="196" y="248" width="4" height="7" fill="#703020"/>
<rect x="153.3" y="257.1" width="15.5" height="9.3" fill="#a88a50"/><rect x="169.3" y="257.1" width="15.5" height="9.3" fill="#34466a"/><rect x="185.3" y="257.1" width="15.7" height="9.3" fill="#828a7c"/>
<rect x="156" y="259" width="7" height="5" fill="#d0b070"/><rect x="174" y="258" width="5" height="8" fill="#202838"/><rect x="188" y="260" width="9" height="4" fill="#a0a898"/>
<rect x="153.3" y="266.9" width="15.5" height="9.4" fill="#233a78"/><rect x="169.3" y="266.9" width="15.5" height="9.4" fill="#7e6242"/><rect x="185.3" y="266.9" width="15.7" height="9.4" fill="#c8ccd0"/>
<rect x="159" y="268" width="3" height="7" fill="#6080c0"/><rect x="173" y="269" width="6" height="5" fill="#b09060"/><rect x="188" y="269" width="10" height="5" fill="#303030"/>
<rect x="202" y="249" width="4" height="3" fill="#2a70c0"/>
<rect x="175.7" y="281.7" width="5.2" height="3" fill="#22282b"/>
<rect x="163.1" y="284.6" width="29.8" height="2.9" fill="#22282b"/>
<g fill="#555"><circle cx="195" cy="280" r="0.4"/><circle cx="198" cy="280" r="0.4"/><circle cx="201" cy="280" r="0.4"/><circle cx="204" cy="280" r="0.4"/></g>
<text x="144.6" y="299.5" font-size="11" fill="#222" textLength="65.1" lengthAdjust="spacingAndGlyphs">Local Display</text>

<!-- 4G tower -->
<defs>
 <radialGradient id="ball" cx="0.4" cy="0.35" r="0.7"><stop offset="0" stop-color="#e8f6ff"/><stop offset="0.5" stop-color="#62b8e8"/><stop offset="1" stop-color="#2a7cc0"/></radialGradient>
 <linearGradient id="steel" x1="0" y1="0" x2="1" y2="0"><stop offset="0" stop-color="#d8d8d8"/><stop offset="0.35" stop-color="#444"/><stop offset="0.65" stop-color="#333"/><stop offset="1" stop-color="#bbb"/></linearGradient>
</defs>
<circle cx="314.1" cy="318.1" r="22.6" fill="none" stroke="#7ccaf0" stroke-width="1.4"/>
<circle cx="314.1" cy="318.1" r="16" fill="none" stroke="#86cdf0" stroke-width="3.2"/>
<circle cx="314.1" cy="318.1" r="10" fill="#a3d8f4"/>
<circle cx="314.1" cy="318.1" r="4.3" fill="url(#ball)"/>
<rect x="312.9" y="322.3" width="2.4" height="14.3" fill="#8bc53f"/>
<polygon points="309.5,335 319.5,335 318,337.8 311,337.8" fill="#3a3a3a"/>
<g fill="none" stroke="#3a3a3a" stroke-linecap="round">
 <path d="M311.6,337.5 Q309,356 298.5,370.5" stroke-width="2.2"/>
 <path d="M316.6,337.5 Q319.5,356 329.8,370.5" stroke-width="2.2"/>
 <path d="M313,337.5 L310.5,370" stroke-width="1.3"/>
 <path d="M315.3,337.5 L318,370" stroke-width="1.3"/>
 <path d="M310,345 L318.5,345 M308.5,352 L320,352 M306.5,359 L322,359" stroke-width="1.1"/>
 <path d="M310,345 L320,352 M318.5,345 L308.5,352 M308.5,352 L322,359 M320,352 L306.5,359 M306.5,359 L318,370 M322,359 L310.5,370" stroke-width="0.7"/>
</g>
<path d="M296.5,371 Q303,366 306,358 L303.5,371 Z" fill="#9a9a9a"/>
<path d="M331.5,371 Q325,366 322,358 L324.5,371 Z" fill="#9a9a9a"/>
<text x="283.3" y="385.6" font-size="11" fill="#222" textLength="58.7" lengthAdjust="spacingAndGlyphs">4G Network</text>
<!-- 3G badges & arcs -->
<g fill="none" stroke="#6cc4ee" stroke-width="1.4">
 <path d="M270.7,336.3 A6,6 0 0 0 272,344.5"/>
 <path d="M266.5,334 A11,11 0 0 0 268.5,349.5"/>
 <path d="M261.5,332 A16,16 0 0 0 266,354"/>
 <path d="M256,333 A21,21 0 0 0 268,358"/>
 <path d="M250,333 A26,26 0 0 0 267,365"/>
 <path d="M219.5,362 A15,15 0 0 1 221.5,369"/>
 <path d="M220,356.5 A21,21 0 0 1 227,370"/>
 <path d="M221.5,351.4 A27,27 0 0 1 233,370.3"/>
 <path d="M224.9,346 A32,32 0 0 1 238.5,371.6"/>
 <path d="M226.5,339.7 A38,38 0 0 1 243.5,372.5"/>
</g>
<circle cx="281.7" cy="335.6" r="5.7" fill="#1a6cc0"/>
<text x="281.7" y="337.7" text-anchor="middle" font-size="5.8" font-weight="bold" fill="#fff">3G</text>
<circle cx="211.9" cy="368.7" r="5.7" fill="#1a6cc0"/>
<text x="211.9" y="370.8" text-anchor="middle" font-size="5.8" font-weight="bold" fill="#fff">3G</text>

<!-- mobile viewer -->
<rect x="113.3" y="364" width="81.4" height="55.7" rx="2" fill="#111" stroke="#666" stroke-width="0.5"/>
<clipPath id="tab"><rect x="118.8" y="369.7" width="69" height="43.1"/></clipPath>
<g clip-path="url(#tab)"><rect x="118" y="369" width="70" height="44" fill="#6a6864"/><use href="#whg" transform="translate(118.8,369.7) scale(0.619) translate(-35.2,-107.8)"/></g>
<rect x="181.7" y="376.6" width="25.9" height="43.9" rx="3" fill="#0e0e0e" stroke="#777" stroke-width="0.6"/>
<clipPath id="ph"><rect x="183.4" y="383.4" width="22.5" height="30.2"/></clipPath>
<g clip-path="url(#ph)"><rect x="183" y="383" width="23" height="31" fill="#c8b490"/><use href="#mcg" transform="translate(183.4,383.4) scale(0.361) translate(-298.8,-22)"/></g>
<circle cx="194.3" cy="416.8" r="1.6" fill="none" stroke="#777" stroke-width="0.6"/>
<text x="118.4" y="432.6" font-size="11.5" font-weight="bold" font-style="italic" fill="#e8600e" stroke="#e8600e" stroke-width="0.35" textLength="83.2" lengthAdjust="spacingAndGlyphs">Mobile Viewer</text>

<!-- legend -->
<g>
 <line x1="453" y1="399.7" x2="540" y2="399.7" stroke="#2aa6e0" stroke-width="2.6"/>
 <line x1="453" y1="417" x2="540" y2="417" stroke="#03148a" stroke-width="2"/>
 <line x1="453" y1="434.6" x2="540" y2="434.6" stroke="#03148a" stroke-width="2.8"/>
 <line x1="453" y1="452" x2="540" y2="452" stroke="#7a7a7a" stroke-width="2"/>
 <line x1="453" y1="469.2" x2="540" y2="469.2" stroke="#0b6b3a" stroke-width="2.6"/>
 <line x1="453" y1="487" x2="540" y2="487" stroke="#5c1e96" stroke-width="2"/>
 <circle cx="496.5" cy="399.7" r="6.1" fill="#f09a1a"/>
 <circle cx="496.5" cy="417" r="6.1" fill="#f09a1a"/>
 <rect x="488.2" y="448" width="16.4" height="7.6" fill="#ec6e0e"/>
 <rect x="488" y="465.7" width="16.6" height="7" fill="#ec6e0e"/>
 <rect x="486.2" y="483.2" width="20.6" height="7.5" fill="#ec6e0e"/>
 <g fill="#fff" font-size="5" font-weight="bold" text-anchor="middle">
  <text x="496.5" y="401.6">PoE</text><text x="496.5" y="418.9">PoE</text>
  <text x="496.4" y="453.8">IOIOI</text><text x="496.3" y="471.1">ADSL</text><text x="496.5" y="488.9" font-size="5.5">Video</text>
 </g>
 <g font-size="10" font-weight="bold">
  <text x="552.5" y="402.8" fill="#2aa4de" stroke="#2aa4de" stroke-width="0.3" textLength="125.2" lengthAdjust="spacingAndGlyphs">100ASE-TX UTP with PoE</text>
  <text x="552.5" y="420.6" fill="#1668b6" stroke="#1668b6" stroke-width="0.3" textLength="132.5" lengthAdjust="spacingAndGlyphs">1000BASE-T UTP with PoE</text>
  <text x="552.5" y="437.6" fill="#1668b6" stroke="#1668b6" stroke-width="0.3" textLength="84.5" lengthAdjust="spacingAndGlyphs">1000BASE-T UTP</text>
  <text x="552.5" y="455.6" fill="#111" stroke="#111" stroke-width="0.3" textLength="99.2" lengthAdjust="spacingAndGlyphs">Serial Line (RS-XXX)</text>
  <text x="552.5" y="473.2" fill="#707070" stroke="#707070" stroke-width="0.3" textLength="54.5" lengthAdjust="spacingAndGlyphs">ADSL 2/2+</text>
  <text x="552.5" y="490.2" fill="#521590" stroke="#521590" stroke-width="0.3" textLength="53.9" lengthAdjust="spacingAndGlyphs">Video Line</text>
 </g>
</g>
</svg>
</body></html>
